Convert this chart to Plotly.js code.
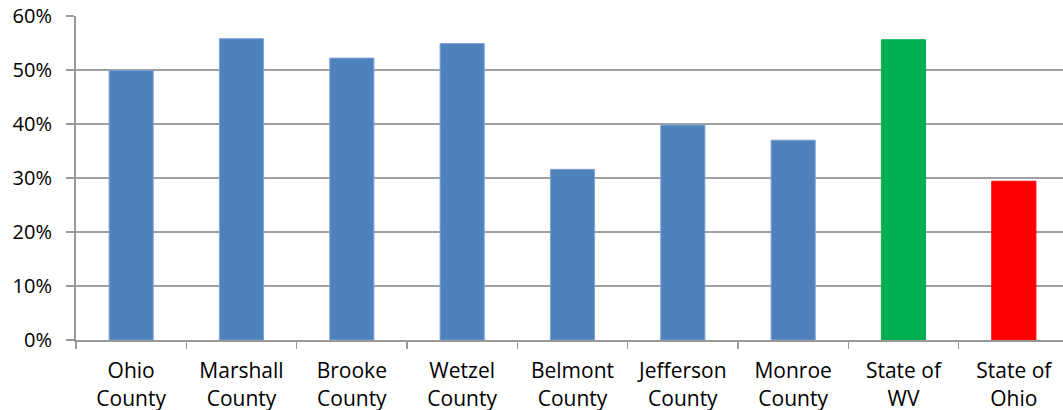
<!DOCTYPE html>
<html>
<head>
<meta charset="utf-8">
<script src="https://cdn.plot.ly/plotly-3.0.1.min.js"></script>
<style>
html,body{margin:0;padding:0;overflow:hidden;background:#fff;}
#chart{width:1069px;height:410px;}
</style>
</head>
<body>
<div id="chart"></div>
<script>
const categories = ["Ohio<br>County","Marshall<br>County","Brooke<br>County","Wetzel<br>County","Belmont<br>County","Jefferson<br>County","Monroe<br>County","State of<br>WV","State of<br>Ohio"];
const values = [0.499, 0.558, 0.522, 0.549, 0.316, 0.398, 0.370, 0.556, 0.294];
const barColors = ["#4F81BD","#4F81BD","#4F81BD","#4F81BD","#4F81BD","#4F81BD","#4F81BD","#00B050","#FF0000"];
const lineColors = ["#7FA3D3","#7FA3D3","#7FA3D3","#7FA3D3","#7FA3D3","#7FA3D3","#7FA3D3","#00B050","#FF0000"];
const yTickVals = [0,0.1,0.2,0.3,0.4,0.5,0.6];
const yTickText = ["0%","10%","20%","30%","40%","50%","60%"];

const trace = {
  type: "bar",
  x: categories,
  y: values,
  width: 0.4,
  marker: {color: barColors, line: {color: lineColors, width: 1}},
  hoverinfo: "skip"
};

const layout = {
  width: 1069,
  height: 410,
  margin: {l: 76, r: 0, t: 16, b: 70},
  paper_bgcolor: "#ffffff",
  plot_bgcolor: "#ffffff",
  showlegend: false,
  font: {family: "Open Sans, Noto Sans, sans-serif", color: "#000000"},
  xaxis: {
    type: "category",
    tickson: "boundaries",
    ticks: "outside",
    ticklen: 7,
    tickwidth: 1.5,
    tickcolor: "#999999",
    showline: true,
    linecolor: "#999999",
    linewidth: 2,
    showgrid: false,
    tickfont: {size: 21, color: "#000000"},
    ticklabelstandoff: 11
  },
  yaxis: {
    range: [0, 0.6],
    tickvals: yTickVals,
    ticktext: yTickText,
    ticks: "outside",
    ticklen: 8,
    tickwidth: 2,
    tickcolor: "#999999",
    showline: true,
    linecolor: "#999999",
    linewidth: 2,
    showgrid: true,
    gridcolor: "#a0a0a0",
    gridwidth: 2,
    zeroline: false,
    tickfont: {size: 20, color: "#000000"},
    ticklabelstandoff: 10
  }
};

Plotly.newPlot("chart", [trace], layout, {displayModeBar: false, staticPlot: true});
</script>
</body>
</html>
